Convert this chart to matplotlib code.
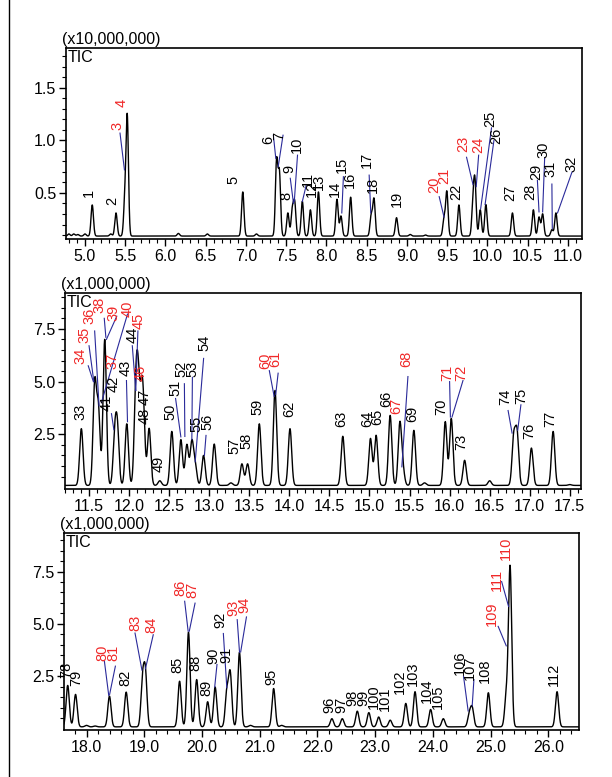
import numpy as np
import matplotlib
matplotlib.use("Agg")
import matplotlib.pyplot as plt
from matplotlib.ticker import MultipleLocator, FixedLocator, FormatStrFormatter
from matplotlib.lines import Line2D

plt.rcParams["font.family"] = ["Liberation Sans", "DejaVu Sans"]

RED = "#f02828"
LEADER = "#2a2a9a"

# ---- panel 1 (x10,000,000) ----
P1_PEAK_T = [4.80, 4.86, 4.91, 5.00, 5.09, 5.32, 5.385, 5.495, 5.525, 6.16, 6.52, 6.96,
             7.13, 7.38, 7.415, 7.52, 7.575, 7.605, 7.70, 7.80, 7.90, 8.13, 8.18, 8.30,
             8.555, 8.59, 8.87, 9.04, 9.23, 9.46, 9.495, 9.645, 9.82, 9.845, 9.91, 9.98,
             10.31, 10.57, 10.64, 10.685, 10.80, 10.85]
P1_PEAK_V = [0.11, 0.11, 0.105, 0.11, 0.386, 0.11, 0.31, 0.42, 1.21, 0.115, 0.11, 0.51,
             0.11, 0.80, 0.68, 0.31, 0.33, 0.40, 0.42, 0.34, 0.51, 0.44, 0.28, 0.46,
             0.28, 0.44, 0.265, 0.105, 0.10, 0.25, 0.51, 0.386, 0.40, 0.57, 0.34, 0.39,
             0.31, 0.34, 0.27, 0.30, 0.15, 0.31]
P1_LABELS = ["1", "2", "3", "4", "5", "6", "7", "8", "9", "10", "11", "12", "13", "14",
             "15", "16", "17", "18", "19", "20", "21", "22", "23", "24", "25", "26", "27",
             "28", "29", "30", "31", "32"]
P1_LABEL_T = [5.05, 5.34, 5.40, 5.455, 6.84, 7.28, 7.41, 7.505, 7.54, 7.63, 7.765, 7.82,
              7.91, 8.105, 8.19, 8.29, 8.50, 8.58, 8.87, 9.34, 9.465, 9.61, 9.70, 9.88,
              10.03, 10.11, 10.28, 10.53, 10.61, 10.69, 10.78, 11.04]
P1_LABEL_V = [0.465, 0.386, 1.10, 1.32, 0.59, 0.97, 1.0, 0.43, 0.69, 0.88, 0.56, 0.465,
              0.53, 0.465, 0.69, 0.545, 0.735, 0.50, 0.37, 0.50, 0.59, 0.43, 0.89, 0.88,
              1.13, 0.97, 0.42, 0.43, 0.62, 0.83, 0.655, 0.70]
P1_RED = ["3", "4", "20", "21", "23", "24"]
P1_LEADERS = {
    "3": (5.435, 1.07, 5.49, 0.72),
    "6": (7.34, 1.05, 7.37, 0.83),
    "7": (7.46, 1.05, 7.40, 0.75),
    "9": (7.55, 0.64, 7.59, 0.40),
    "10": (7.64, 0.86, 7.60, 0.42),
    "11": (7.75, 0.58, 7.70, 0.42),
    "15": (8.21, 0.655, 8.19, 0.31),
    "17": (8.53, 0.67, 8.55, 0.31),
    "20": (9.40, 0.465, 9.46, 0.27),
    "23": (9.74, 0.84, 9.82, 0.58),
    "24": (9.89, 0.86, 9.86, 0.56),
    "25": (10.05, 1.12, 9.915, 0.35),
    "26": (10.08, 1.0, 9.97, 0.39),
    "29": (10.62, 0.62, 10.64, 0.32),
    "30": (10.71, 0.83, 10.685, 0.32),
    "31": (10.80, 0.585, 10.805, 0.16),
    "32": (11.05, 0.70, 10.87, 0.31),
}

# ---- panel 2 (x1,000,000) ----
P2_PEAK_T = [11.404, 11.571, 11.617, 11.696, 11.821, 11.854, 11.971, 12.083, 12.113,
             12.154, 12.179, 12.25, 12.383, 12.533, 12.646, 12.721, 12.783, 12.825,
             12.929, 13.0625, 13.271, 13.408, 13.479, 13.625, 13.821, 14.008, 14.667,
             15.0125, 15.083, 15.258, 15.379, 15.417, 15.554, 15.6875, 15.946, 16.021,
             16.1875, 16.5, 16.8, 16.842, 17.021, 17.292, 17.5]
P2_PEAK_V = [2.77, 4.85, 3.6, 7.0, 2.3, 2.6, 3.0, 4.0, 4.3, 3.2, 2.9, 2.78, 0.3, 2.64,
             2.25, 2.0, 2.1, 1.0, 1.5, 2.04, 0.2, 1.1, 1.1, 3.0, 4.58, 2.77, 2.41, 2.3,
             2.45, 3.40, 2.97, 0.8, 2.69, 0.2, 3.1, 3.25, 1.27, 0.3, 2.3, 2.5, 1.85,
             2.64, 0.12]
P2_LABELS = ["33", "34", "35", "36", "38", "39", "40", "37", "41", "42", "43", "44",
             "45", "46", "47", "48", "49", "50", "51", "52", "53", "54", "55", "56",
             "57", "58", "59", "60", "61", "62", "63", "64", "65", "66", "67", "68",
             "69", "70", "71", "72", "73", "74", "75", "76", "77"]
P2_LABEL_T = [11.39, 11.39, 11.446, 11.51, 11.625, 11.80, 11.98, 11.79, 11.717, 11.81,
              11.96, 12.04, 12.125, 12.146, 12.20, 12.19, 12.367, 12.51, 12.58, 12.655,
              12.79, 12.94, 12.845, 12.975, 13.32, 13.47, 13.60, 13.695, 13.825, 14.0,
              14.646, 14.97, 15.095, 15.215, 15.34, 15.46, 15.54, 15.90, 15.97, 16.146,
              16.146, 16.69, 16.90, 16.99, 17.26]
P2_LABEL_V = [3.16, 5.83, 6.85, 7.72, 8.27, 7.88, 8.04, 5.6, 3.63, 4.5, 5.28, 6.85, 7.48,
              5.05, 3.87, 3.0, 0.72, 3.16, 4.34, 5.2, 5.2, 6.46, 2.61, 2.69, 1.59, 1.82,
              3.4, 5.6, 5.68, 3.32, 2.85, 2.85, 2.92, 3.82, 3.47, 5.68, 3.08, 3.4, 5.05,
              5.05, 1.75, 3.87, 3.95, 2.3, 2.85]
P2_RED = ["34", "35", "36", "37", "38", "39", "40", "45", "46", "60", "61", "67", "68",
          "71", "72"]
P2_LEADERS = {
    "34": (11.49, 5.75, 11.554, 5.0),
    "35": (11.50, 6.7, 11.56, 5.0),
    "36": (11.57, 7.4, 11.625, 3.85),
    "38": (11.69, 8.0, 11.71, 7.1),
    "39": (11.846, 8.1, 11.717, 7.0),
    "40": (11.98, 8.2, 11.654, 4.0),
    "42": (11.78, 3.48, 11.81, 2.72),
    "43": (11.967, 5.05, 11.98, 3.1),
    "44": (12.04, 6.7, 12.083, 4.58),
    "45": (12.11, 7.4, 12.083, 4.58),
    "51": (12.58, 4.2, 12.646, 2.38),
    "52": (12.69, 4.9, 12.696, 2.4),
    "53": (12.79, 5.2, 12.783, 2.25),
    "54": (12.93, 6.1, 12.825, 1.2),
    "56": (12.96, 2.45, 12.94, 1.5),
    "60": (13.75, 5.52, 13.81, 4.3),
    "61": (13.86, 5.4, 13.83, 4.4),
    "68": (15.48, 5.24, 15.404, 0.96),
    "71": (16.0, 5.0, 16.01, 3.32),
    "72": (16.167, 5.05, 16.03, 3.32),
    "74": (16.73, 3.63, 16.78, 2.56),
    "75": (16.89, 3.9, 16.85, 2.69),
}

# ---- panel 3 (x1,000,000) ----
P3_PEAK_T = [17.674, 17.81, 18.0, 18.15, 18.397, 18.687, 18.97, 19.02, 19.612, 19.766,
             19.908, 20.098, 20.228, 20.43, 20.489, 20.649, 20.84, 21.241, 21.38, 22.25,
             22.43, 22.69, 22.89, 23.06, 23.26, 23.53, 23.69, 23.96, 24.18, 24.63, 24.68,
             24.96, 25.27, 25.336, 26.15]
P3_PEAK_V = [2.06, 1.63, 0.15, 0.12, 1.55, 1.74, 2.2, 2.55, 2.26, 4.6, 2.34, 1.28, 1.98,
             1.7, 2.6, 3.64, 0.15, 1.91, 0.15, 0.47, 0.47, 0.83, 0.76, 0.55, 0.4, 1.2,
             1.76, 0.91, 0.47, 0.65, 0.95, 1.71, 1.5, 7.71, 1.76]
P3_LABELS = ["78", "79", "80", "81", "82", "83", "84", "85", "86", "87", "88", "89", "90",
             "91", "92", "93", "94", "95", "96", "97", "98", "99", "100", "101", "102",
             "103", "104", "105", "106", "107", "108", "109", "111", "110", "112"]
P3_LABEL_T = [17.644, 17.82, 18.27, 18.47, 18.68, 18.84, 19.126, 19.57, 19.63, 19.84,
              19.88, 20.07, 20.19, 20.43, 20.31, 20.55, 20.73, 21.2, 22.20, 22.42, 22.60,
              22.79, 22.98, 23.17, 23.43, 23.66, 23.89, 24.09, 24.47, 24.64, 24.90, 25.02,
              25.10, 25.26, 26.09]
P3_LABEL_V = [2.42, 2.02, 3.21, 3.21, 2.02, 4.64, 4.56, 2.63, 6.31, 6.23, 2.74, 1.55, 3.06,
              3.14, 4.8, 5.36, 5.52, 2.1, 0.76, 0.76, 1.07, 1.07, 0.92, 0.84, 1.63, 2.02,
              1.23, 0.92, 2.58, 2.34, 2.18, 4.88, 6.55, 8.06, 2.02]
P3_RED = ["80", "81", "83", "84", "86", "87", "93", "94", "109", "110", "111"]
P3_LEADERS = {
    "80": (18.31, 3.21, 18.385, 1.58),
    "81": (18.50, 2.98, 18.40, 1.63),
    "83": (18.84, 4.56, 18.96, 2.79),
    "84": (19.156, 4.48, 19.02, 2.85),
    "86": (19.70, 6.08, 19.76, 4.65),
    "87": (19.88, 5.99, 19.78, 4.65),
    "90": (20.26, 3.06, 20.22, 1.98),
    "92": (20.37, 4.54, 20.43, 1.95),
    "93": (20.61, 5.2, 20.65, 3.64),
    "94": (20.77, 5.33, 20.67, 3.66),
    "106": (24.53, 2.5, 24.61, 0.84),
    "107": (24.71, 2.34, 24.68, 1.08),
    "109": (25.13, 4.88, 25.27, 3.95),
    "111": (25.19, 7.02, 25.31, 5.83),
}


def build_trace(times, tops, base, sigma, xlim):
    """Sum of gaussian peaks sitting on a flat baseline."""
    t = np.linspace(xlim[0], xlim[1], 8000)
    y = np.full_like(t, base)
    for t0, top in zip(times, tops):
        y += (top - base) * np.exp(-0.5 * ((t - t0) / sigma) ** 2)
    return t, y


def draw_panel(ax, times, tops, base, sigma, xlim, ylim, xmajor, xminor,
               yticks, yminor, multiplier, labels, lab_t, lab_v, red, leaders):
    t, y = build_trace(times, tops, base, sigma, xlim)
    ax.plot(t, y, color="black", lw=1.0)
    ax.set_xlim(xlim)
    ax.set_ylim(ylim)
    ax.xaxis.set_major_locator(MultipleLocator(xmajor))
    ax.xaxis.set_minor_locator(MultipleLocator(xminor))
    ax.xaxis.set_major_formatter(FormatStrFormatter("%.1f"))
    ax.yaxis.set_major_locator(FixedLocator(yticks))
    ax.yaxis.set_minor_locator(FixedLocator(yminor))
    ax.yaxis.set_major_formatter(FormatStrFormatter("%.1f"))
    ax.tick_params(which="major", direction="out", length=5, width=1.0,
                   labelsize=11.5, pad=2)
    ax.tick_params(which="minor", direction="out", length=3, width=0.8)
    for s in ax.spines.values():
        s.set_linewidth(1.2)
    ax.text(0.004, 0.99, "TIC", transform=ax.transAxes, ha="left", va="top",
            fontsize=11.5)
    ax.text(-0.008, 1.004, multiplier, transform=ax.transAxes, ha="left",
            va="bottom", fontsize=11.5)

    for name, lt, lv in zip(labels, lab_t, lab_v):
        color = RED if name in red else "black"
        ax.text(lt, lv, name, rotation=90, ha="center", va="bottom",
                color=color, fontsize=10.5)
        if name in leaders:
            x0, y0, x1, y1 = leaders[name]
            ax.plot([x0, x1], [y0, y1], color=LEADER, lw=0.8)


fig = plt.figure(figsize=(6.12, 7.77), dpi=100)
W, H = 612.0, 777.0


def add_axes(left, right, top, bottom):
    return fig.add_axes([left / W, 1 - bottom / H, (right - left) / W, (bottom - top) / H])


ax1 = add_axes(66, 582, 48, 239)
draw_panel(ax1, P1_PEAK_T, P1_PEAK_V, 0.09, 0.015, (4.764, 11.174), (0.062, 1.88),
           0.5, 0.1, [0.5, 1.0, 1.5], np.arange(0.1, 1.85, 0.1), "(x10,000,000)",
           P1_LABELS, P1_LABEL_T, P1_LABEL_V, P1_RED, P1_LEADERS)

ax2 = add_axes(65, 581, 293, 489)
draw_panel(ax2, P2_PEAK_T, P2_PEAK_V, 0.08, 0.021, (11.2, 17.64), (-0.09, 9.2),
           0.5, 0.1, [2.5, 5.0, 7.5], np.arange(0.5, 9.1, 0.5), "(x1,000,000)",
           P2_LABELS, P2_LABEL_T, P2_LABEL_V, P2_RED, P2_LEADERS)

ax3 = add_axes(64, 579, 533, 730)
draw_panel(ax3, P3_PEAK_T, P3_PEAK_V, 0.08, 0.028, (17.61, 26.53), (-0.07, 9.34),
           1.0, 0.2, [2.5, 5.0, 7.5], np.arange(0.5, 9.1, 0.5), "(x1,000,000)",
           P3_LABELS, P3_LABEL_T, P3_LABEL_V, P3_RED, P3_LEADERS)

# page frame line on the left
fig.add_artist(Line2D([8.5 / W, 8.5 / W], [0, 1], transform=fig.transFigure,
                      color="black", lw=1.0))

fig.savefig("out.png", dpi=100)
